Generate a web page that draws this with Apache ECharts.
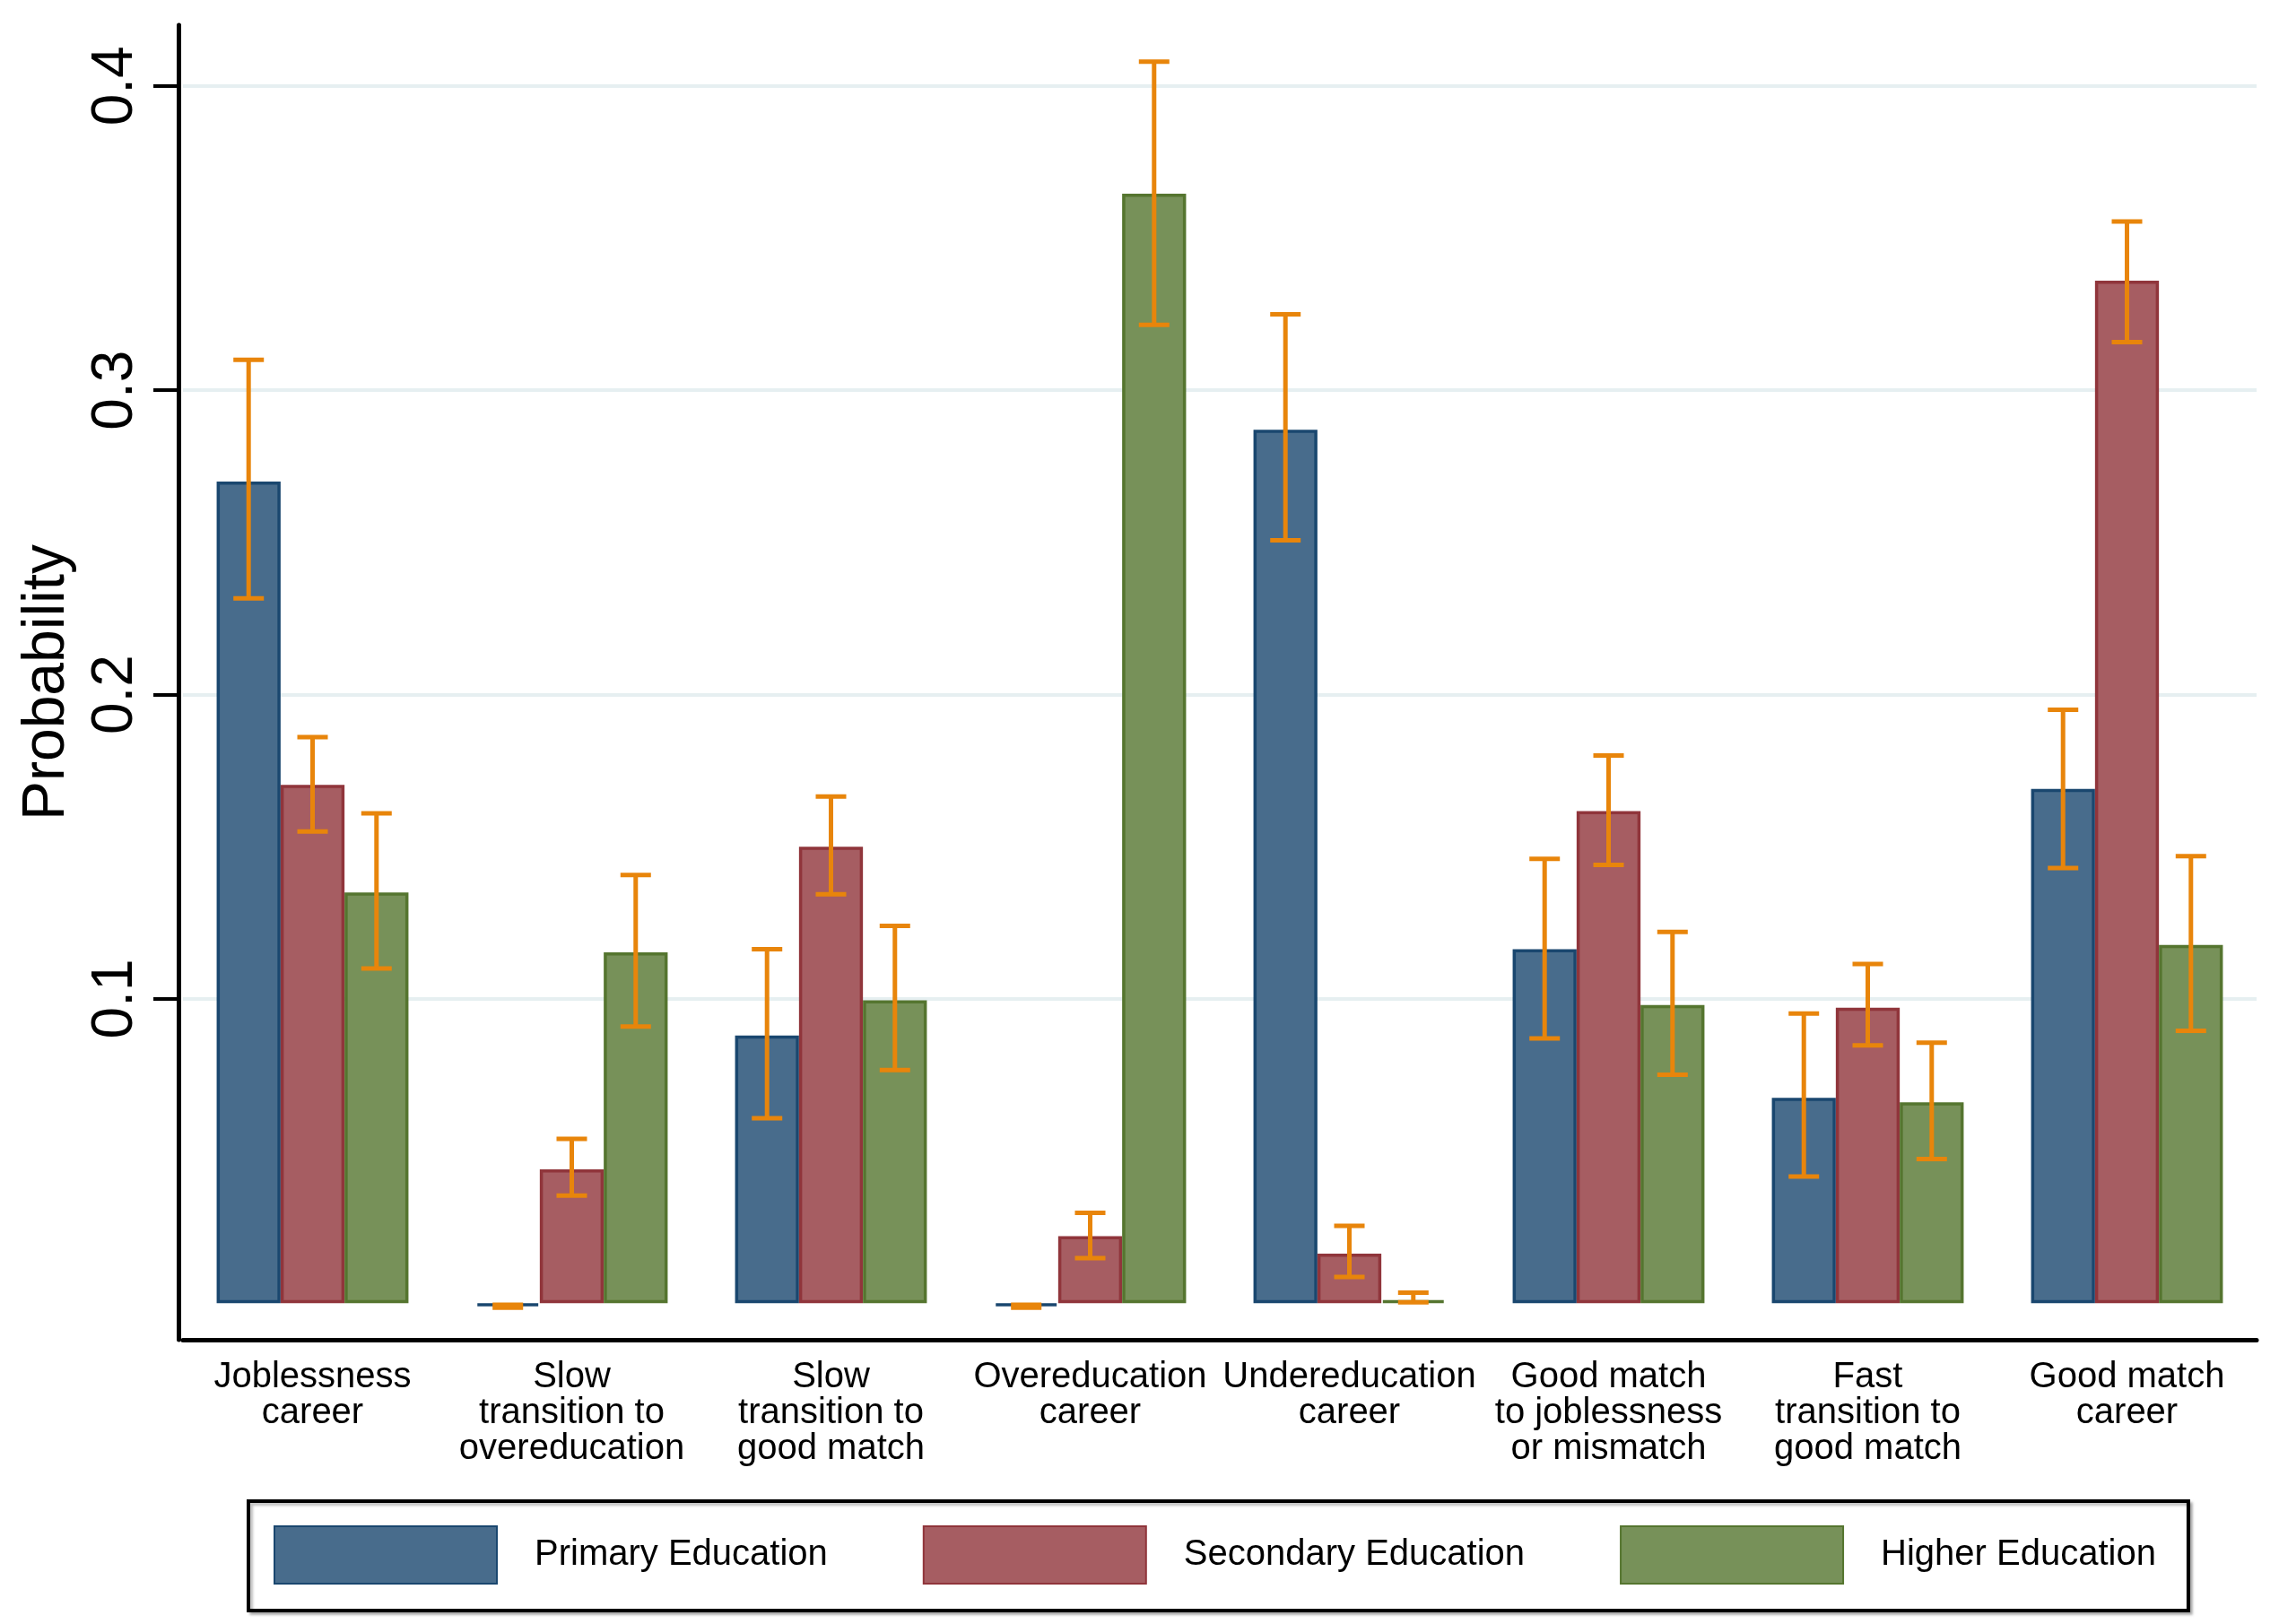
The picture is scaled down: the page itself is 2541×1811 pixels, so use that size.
<!DOCTYPE html>
<html>
<head>
<meta charset="utf-8">
<script src="https://cdn.jsdelivr.net/npm/echarts@6/dist/echarts.min.js"></script>
<style>
html,body{margin:0;padding:0;background:#fff;}
#chart{width:2541px;height:1811px;}
</style>
</head>
<body>
<div id="chart"></div>
<script>
const categories = [
  "Joblessness\ncareer",
  "Slow\ntransition to\novereducation",
  "Slow\ntransition to\ngood match",
  "Overeducation\ncareer",
  "Undereducation\ncareer",
  "Good match\nto joblessness\nor mismatch",
  "Fast\ntransition to\ngood match",
  "Good match\ncareer"
];
const seriesNames = ["Primary Education", "Secondary Education", "Higher Education"];

const primary   = [0.270, -0.001, 0.088, -0.001, 0.287, 0.1163, 0.0675, 0.169];
const primaryLo = [0.2316, -0.0015, 0.0608, -0.0015, 0.2507, 0.087, 0.0416, 0.143];
const primaryHi = [0.310, -0.0005, 0.1163, -0.0005, 0.325, 0.146, 0.0952, 0.195];

const secondary   = [0.1703, 0.044, 0.150, 0.022, 0.0163, 0.1617, 0.0971, 0.336];
const secondaryLo = [0.155, 0.0354, 0.1344, 0.0148, 0.0086, 0.144, 0.0847, 0.3158];
const secondaryHi = [0.186, 0.054, 0.1665, 0.0297, 0.0254, 0.180, 0.1115, 0.3555];

const higher   = [0.135, 0.1153, 0.0995, 0.3646, 0.001, 0.098, 0.066, 0.1177];
const higherLo = [0.110, 0.0909, 0.0766, 0.3215, 0.0003, 0.0751, 0.0474, 0.0895];
const higherHi = [0.161, 0.1407, 0.124, 0.408, 0.0035, 0.122, 0.0856, 0.1469];

const yTicks = [0.1, 0.2, 0.3, 0.4];

const fills   = ["#486C8C", "#A65D62", "#779159"];
const borders = ["#1A476F", "#90353B", "#55752F"];
const errColor = "#E8850B";
const FONT = "'Liberation Sans', Arial, sans-serif";
const CATGAP = 0.26;

const values = [primary, secondary, higher];
const lows = [primaryLo, secondaryLo, higherLo];
const highs = [primaryHi, secondaryHi, higherHi];

function errRenderer(k) {
  return function (params, api) {
    const xi = api.value(0);
    const lo = api.coord([xi, api.value(1)]);
    const hi = api.coord([xi, api.value(2)]);
    const band = api.size([1, 0])[0];
    const w = band * (1 - CATGAP) / 3;
    const x = lo[0] + (k - 1) * w;
    const half = 17;
    const style = { stroke: errColor, lineWidth: 5 };
    return {
      type: 'group',
      children: [
        { type: 'line', shape: { x1: x, y1: lo[1], x2: x, y2: hi[1] }, style: style },
        { type: 'line', shape: { x1: x - half, y1: lo[1], x2: x + half, y2: lo[1] }, style: style },
        { type: 'line', shape: { x1: x - half, y1: hi[1], x2: x + half, y2: hi[1] }, style: style }
      ]
    };
  };
}

const series = [];
// gridlines helper (behind the bars)
series.push({
  type: 'line', data: [], silent: true, z: 0,
  markLine: {
    z: 0, zlevel: 0,
    silent: true, symbol: ['none', 'none'], label: { show: false },
    lineStyle: { color: '#E6EFF1', width: 4, type: 'solid' },
    emphasis: { disabled: true },
    data: yTicks.map(v => ({ yAxis: v }))
  }
});
for (let k = 0; k < 3; k++) {
  series.push({
    name: seriesNames[k], type: 'bar', z: 2,
    barGap: '0%', barCategoryGap: (CATGAP * 100) + '%',
    data: values[k],
    itemStyle: { color: fills[k], borderColor: borders[k], borderWidth: 3.5 }
  });
}
for (let k = 0; k < 3; k++) {
  series.push({
    type: 'custom', z: 6, silent: true,
    renderItem: errRenderer(k),
    encode: { x: 0, y: [1, 2] },
    data: categories.map((c, i) => [i, lows[k][i], highs[k][i]])
  });
}

const chart = echarts.init(document.getElementById('chart'));
chart.setOption({
  backgroundColor: '#fff',
  animation: false,
  textStyle: { fontFamily: FONT },
  grid: { left: 204, right: 25, top: 28, bottom: 317, containLabel: false },
  xAxis: {
    type: 'category', data: categories, boundaryGap: true,
    axisLine: { show: true, onZero: false, lineStyle: { color: '#000', width: 5 } },
    axisTick: { show: false },
    axisLabel: { interval: 0, color: '#000', fontSize: 40, lineHeight: 40, margin: 22, fontFamily: FONT, align: 'center' },
    splitLine: { show: false }
  },
  yAxis: {
    type: 'value', min: -0.012, max: 0.42, offset: 5,
    name: 'Probability', nameLocation: 'middle', nameRotate: 90, nameGap: 113,
    nameTextStyle: { fontSize: 66, color: '#000', fontFamily: FONT },
    axisLine: { show: true, onZero: false, lineStyle: { color: '#000', width: 5 } },
    axisTick: { show: true, customValues: yTicks, length: 28, lineStyle: { color: '#000', width: 4 } },
    axisLabel: { customValues: yTicks, rotate: 90, fontSize: 64, color: '#000', margin: 38, fontFamily: FONT },
    splitLine: { show: false }
  },
  legend: {
    data: seriesNames,
    left: 277, top: 1674,
    orient: 'horizontal',
    padding: [27, 36, 29, 28],
    borderColor: '#000', borderWidth: 4,
    backgroundColor: '#fff',
    shadowColor: 'rgba(0,0,0,0.25)', shadowBlur: 3, shadowOffsetX: 3, shadowOffsetY: 3,
    itemWidth: 248, itemHeight: 64, itemGap: 106,
    icon: 'rect',
    textStyle: { fontSize: 40, color: '#000', fontFamily: FONT, padding: [0, 0, 0, 37] }
  },
  series: series
});
</script>
</body>
</html>
